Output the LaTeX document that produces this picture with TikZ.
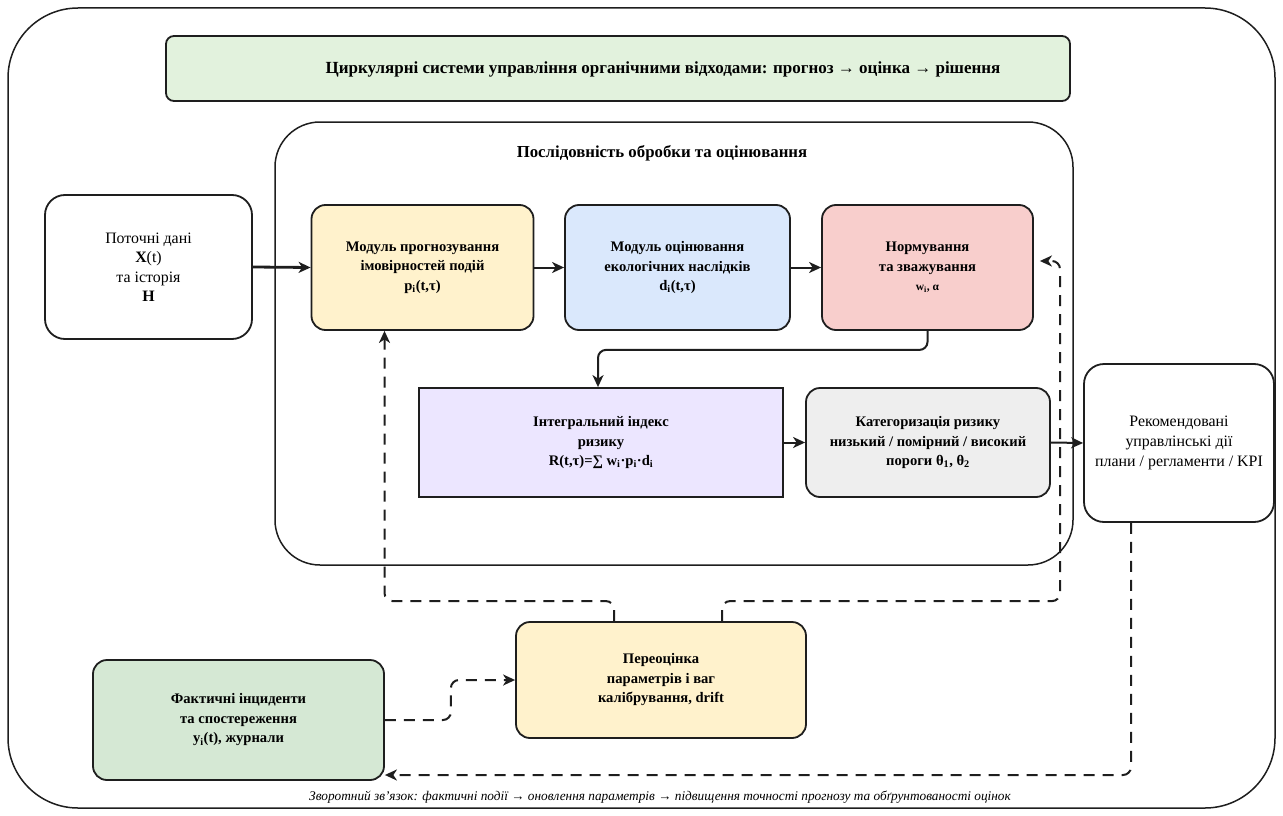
\documentclass[tikz,border=0pt]{standalone}
\usepackage{fontspec}
\setmainfont{Liberation Serif}
\usetikzlibrary{arrows.meta}
\definecolor{lineC}{HTML}{1E1E1E}
\definecolor{titleC}{HTML}{E2F2DD}
\definecolor{yelC}{HTML}{FFF2CC}
\definecolor{bluC}{HTML}{DAE8FC}
\definecolor{redC}{HTML}{F8CECC}
\definecolor{lavC}{HTML}{ECE6FF}
\definecolor{greyC}{HTML}{EEEEEE}
\definecolor{grnC}{HTML}{D5E8D4}
\begin{document}
\begin{tikzpicture}[x=1pt,y=-1pt,
  box/.style={draw=lineC, line width=1.8pt, rounded corners=14pt, align=center, inner sep=0pt,
    font=\bfseries\fontsize{14.6}{19.5}\selectfont},
  plainbox/.style={box, font=\fontsize{15.9}{19.5}\selectfont, rounded corners=20pt},
  arr/.style={draw=lineC, line width=2pt, -{Stealth[length=12pt,width=11pt,inset=3.5pt]}},
  darr/.style={arr, dash pattern=on 11pt off 8pt, rounded corners=8pt},
]
\useasboundingbox (0,0) rectangle (1283,816);
\node[draw=lineC, line width=1.5pt, rounded corners=70pt, minimum width=1267pt, minimum height=800pt] (frame) at (641.5,408) {};
\node[box, fill=titleC, rounded corners=8pt, minimum width=904pt, minimum height=65pt] (title) at (618,68.5) {};
\node[font=\bfseries\fontsize{17}{20}\selectfont] (titleT) at (663,69)
  {Циркулярні системи управління органічними відходами: прогноз → оцінка → рішення};
\node[draw=lineC, line width=1.5pt, rounded corners=45pt, minimum width=798pt, minimum height=443pt] (seq) at (674,343.5) {};
\node[font=\bfseries\fontsize{16.8}{20}\selectfont] (seqT) at (662,153) {Послідовність обробки та оцінювання};

\node[plainbox, minimum width=207pt, minimum height=144pt] (inp) at (148.5,267)
  {Поточні дані\\\textbf{X}(t)\\та історія\\\textbf{H}};
\node[box, fill=yelC, minimum width=222pt, minimum height=125pt] (prog) at (422.5,267.5)
  {Модуль прогнозування\\імовірностей подій\\p\textsubscript{i}(t,τ)};
\node[box, fill=bluC, minimum width=225pt, minimum height=125pt] (assess) at (677.5,267.5)
  {Модуль оцінювання\\екологічних наслідків\\d\textsubscript{i}(t,τ)};
\node[box, fill=redC, minimum width=211pt, minimum height=125pt] (norm) at (927.5,267.5)
  {Нормування\\та зважування\\{\fontsize{11.5}{16}\selectfont w\textsubscript{i}, α}};
\node[box, fill=lavC, rounded corners=0pt, minimum width=364pt, minimum height=109pt] (integ) at (601,442.5)
  {Інтегральний індекс\\ризику\\R(t,τ)=∑ w\textsubscript{i}·p\textsubscript{i}·d\textsubscript{i}};
\node[box, fill=greyC, minimum width=244pt, minimum height=109pt] (categ) at (928,442.5)
  {Категоризація ризику\\низький / помірний / високий\\пороги θ\textsubscript{1}, θ\textsubscript{2}};
\node[plainbox, fill=white, minimum width=190pt, minimum height=158pt, font=\fontsize{15.9}{20}\selectfont] (rec) at (1179,443)
  {Рекомендовані\\управлінські дії\\плани / регламенти / KPI};
\node[box, fill=yelC, minimum width=290pt, minimum height=116pt] (reeval) at (661,680)
  {Переоцінка\\параметрів і ваг\\калібрування, drift};
\node[box, fill=grnC, minimum width=291pt, minimum height=120pt] (fact) at (238.5,720)
  {Фактичні інциденти\\та спостереження\\y\textsubscript{i}(t), журнали};
\node[font=\itshape\fontsize{13.3}{15}\selectfont] (foot) at (660,797)
  {Зворотний зв’язок: фактичні події → оновлення параметрів → підвищення точності прогнозу та обґрунтованості оцінок};

\draw[arr, line width=2.8pt] (inp.east) -- (prog.west);
\draw[arr] (prog) -- (assess);
\draw[arr] (assess) -- (norm);
\draw[arr, rounded corners=8pt] (norm.south) -- ++(0,19) -| ([xshift=-3pt]integ.north);
\draw[arr] (integ) -- (categ);
\draw[arr] (categ.east) -- (rec.west);

\coordinate (nR) at (1060,261);
\coordinate (nIn) at ([xshift=6pt,yshift=6.5pt]norm.east);
\draw[darr] ([xshift=-47pt]reeval.north) -- ++(0,-20) -| ([xshift=-38pt]prog.south);
\draw[darr] ([xshift=61pt]reeval.north) -- ++(0,-20) -| (nR) -- (nIn);
\draw[darr] (fact.east) -- ++(66,0) |- (reeval.west);
\draw[darr] ([xshift=-48pt]rec.south) |- ([yshift=-55pt]fact.east);
\end{tikzpicture}
\end{document}
